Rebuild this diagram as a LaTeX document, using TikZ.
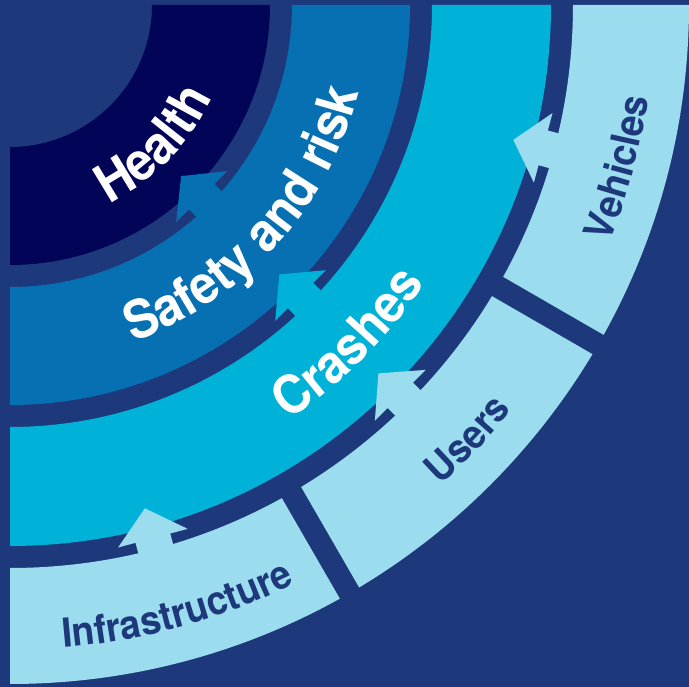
\documentclass[tikz,border=0pt]{standalone}
\usepackage{fontspec}
\newfontfamily\lblfont[FakeStretch=0.93]{TeX Gyre Heros}
\usetikzlibrary{decorations.text}
\definecolor{bgc}{HTML}{1E397B}
\definecolor{healthc}{HTML}{020458}
\definecolor{safetyc}{HTML}{0670B2}
\definecolor{crashc}{HTML}{00B2D8}
\definecolor{outerc}{HTML}{9BDCEE}
\newcommand\ringsector[5]{% color, r1, r2, a1, a2
  \fill[#1] (#5:#3) arc[start angle=#5, end angle=#4, radius=#3] -- (#4:#2) arc[start angle=#4, end angle=#5, radius=#2] -- cycle;}
\newcommand\ringarrow[5]{% color, angle, tip r, base r, stem r
  \begin{scope}[rotate=#2]
  \fill[#1] (#3,0) -- (#4,36) -- (#4,18) -- (#5,18) -- (#5,-18) -- (#4,-18) -- (#4,-36) -- cycle;
  \end{scope}}
\newcommand\arclabel[5]{% style, center angle, half span, radius, text
  \path[#1={#5}] (#2-#3:#4) arc[start angle=#2-#3, end angle=#2+#3, radius=#4];}
\tikzset{
  innertext/.style={decorate, decoration={text along path, text align=center, text color=white,
     text={|\lblfont\bfseries\fontsize{53}{55}\selectfont|#1}}},
  outertext/.style={decorate, decoration={text along path, text align=center, text color=bgc,
     text={|\lblfont\bfseries\fontsize{40}{42}\selectfont|#1}}},
  sepline/.style={draw=bgc, line width=22pt}
}
\begin{document}
\begin{tikzpicture}[x=1pt,y=1pt]
\fill[bgc] (-10,5) rectangle (679,-682);
\useasboundingbox (-10,5) rectangle (679,-682);
% rings
\ringsector{healthc}{142}{260}{-90}{0}
\ringsector{safetyc}{282}{400}{-90}{0}
\ringsector{crashc}{422}{541}{-90}{0}
\ringsector{outerc}{563}{679}{-90}{0}
% separators in outer ring
\coordinate (s1a) at (-30:550); \coordinate (s1b) at (-30:700);
\coordinate (s2a) at (-60:550); \coordinate (s2b) at (-60:700);
\draw[sepline] (s1a) -- (s1b);
\draw[sepline] (s2a) -- (s2b);
% arrows
\ringarrow{safetyc}{-45}{242}{271}{286}
\ringarrow{crashc}{-45}{381}{411}{426}
\ringarrow{outerc}{-75}{521}{552}{567}
\ringarrow{outerc}{-45}{521}{552}{567}
\ringarrow{outerc}{-15}{521}{552}{567}
% labels
\arclabel{innertext}{-44}{45}{222}{Health}
\arclabel{innertext}{-42}{45}{359}{Safety and risk}
\arclabel{innertext}{-45}{45}{500}{Crashes}
\arclabel{outertext}{-74.5}{15}{645}{Infrastructure}
\arclabel{outertext}{-43.5}{15}{645}{Users}
\arclabel{outertext}{-15}{15}{645}{Vehicles}
\end{tikzpicture}
\end{document}
